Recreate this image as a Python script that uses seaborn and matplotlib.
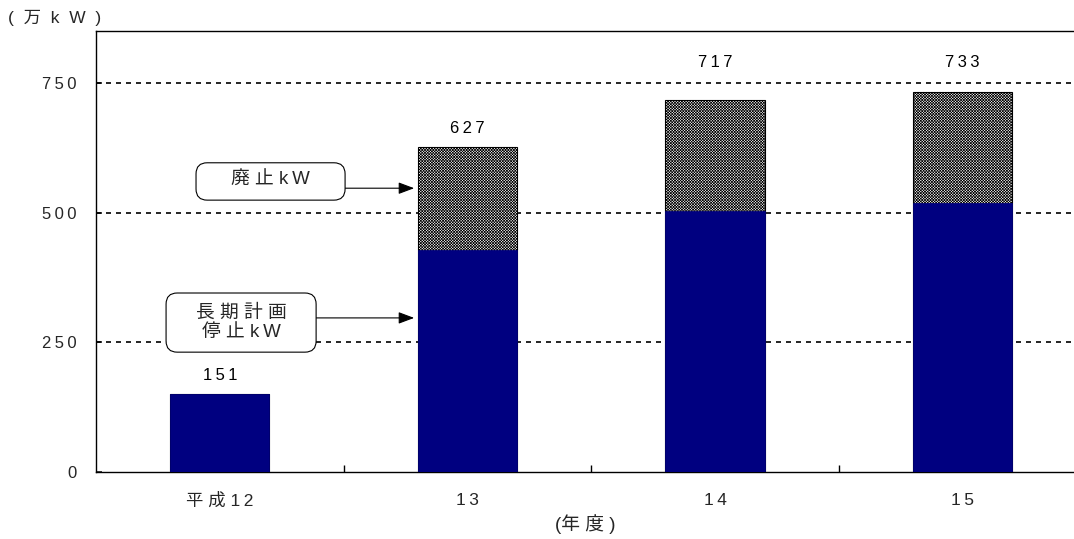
import numpy as np
import pandas as pd
import matplotlib
matplotlib.use("Agg")
import matplotlib.pyplot as plt
from matplotlib.ticker import FixedLocator
from matplotlib.patches import FancyBboxPatch
import seaborn as sns

sns.set_theme(style="white")
plt.rcParams['font.family'] = ['Liberation Sans', 'Noto Sans CJK JP', 'DejaVu Sans']
plt.rcParams['hatch.color'] = '#9a9a9a'
plt.rcParams['hatch.linewidth'] = 0.5

# data
years = ['平成12', '13', '14', '15']
stopped = [151, 428, 503, 519]      # 長期計画停止kW
totals = [151, 627, 717, 733]       # 合計 (廃止kW 含む)
yticks = [0, 250, 500, 750]


def spaced(s):
    # the original uses wide letter spacing
    return '\u2009'.join(s)


df = pd.DataFrame({'year': years, 'stopped': stopped, 'total': totals})

fig = plt.figure(figsize=(10.74, 5.39), dpi=100)
ax = fig.add_axes([96/1074, 67/539, 978/1074, 441/539])

# total bars (hatched part = 廃止kW) first, then the stopped part over them
sns.barplot(data=df, x='year', y='total', color='white', width=0.4,
            saturation=1, ax=ax, zorder=3)
for p in ax.patches:
    p.set_hatch('x' * 12)
    p.set_edgecolor('black')
    p.set_linewidth(0.8)
n_tot = len(ax.patches)
sns.barplot(data=df, x='year', y='stopped', color='#000080', width=0.4,
            saturation=1, ax=ax, zorder=4)
for p in ax.patches[n_tot:]:
    p.set_edgecolor('#000080')
    p.set_linewidth(0.5)

# value labels (the two tallest sit above the 750 line)
tot = np.array(totals)
label_y = np.where(tot > 700, 790, tot + 35)
for i, (t, ly) in enumerate(zip(totals, label_y)):
    ax.text(i, ly, spaced(str(t)), ha='center', va='center', fontsize=12, color='black')

ax.set_xlim(-0.5, 3.45)
ax.set_ylim(0, 850)
ax.set_yticks(yticks)
ax.set_yticklabels([spaced(str(v)) for v in yticks])
ax.set_xticks(range(len(years)))
ax.set_xticklabels(['平 成 ' + spaced('12')] + [spaced(y) for y in years[1:]])
ax.tick_params(axis='y', labelsize=12, length=4, direction='in', left=True, pad=14)
ax.tick_params(axis='x', labelsize=12.5, length=0, pad=15)
ax.xaxis.set_minor_locator(FixedLocator([0.5, 1.5, 2.5]))
ax.tick_params(axis='x', which='minor', bottom=True, direction='in', length=5, color='black')
for y in yticks[1:]:
    ax.axhline(y, color='black', lw=1.2, ls=(0, (3, 3)), zorder=1)

for s in ['left', 'bottom', 'top']:
    ax.spines[s].set_color('black')
    ax.spines[s].set_linewidth(1.0)
ax.spines['right'].set_visible(False)

ax.set_xlabel('(年 度 )', fontsize=13.5, labelpad=4)
ax.set_ylabel('')
fig.text(8/1074, 1 - 18/539, '(  万  k  W  )', fontsize=12.5, va='center', ha='left')

# callouts: rounded boxes with horizontal arrows into the 13 bar
aspect = (247.5 / 0.5187)


def callout(x0, x1, y0, y1, ty, text, ay):
    b = FancyBboxPatch((x0, y0), x1 - x0, y1 - y0,
                       boxstyle='round,pad=0,rounding_size=0.045',
                       mutation_aspect=aspect, fc='white', ec='black', lw=0.8,
                       zorder=5)
    ax.add_patch(b)
    ax.text((x0 + x1) / 2, ty, text, ha='center', va='center', fontsize=13.5,
            linespacing=1.2, zorder=6)
    ax.annotate('', xy=(0.785, ay), xytext=(x1, ay),
                arrowprops=dict(arrowstyle='-|>,head_length=0.8,head_width=0.3',
                                color='black', lw=0.8, shrinkA=0, shrinkB=0))


callout(-0.096, 0.506, 524, 596, 562, '廃 止 ' + spaced('kW'), 547)
callout(-0.217, 0.389, 231, 345, 288, '長 期 計 画\n停 止 ' + spaced('kW'), 297)

fig.savefig('out.png', dpi=100)
